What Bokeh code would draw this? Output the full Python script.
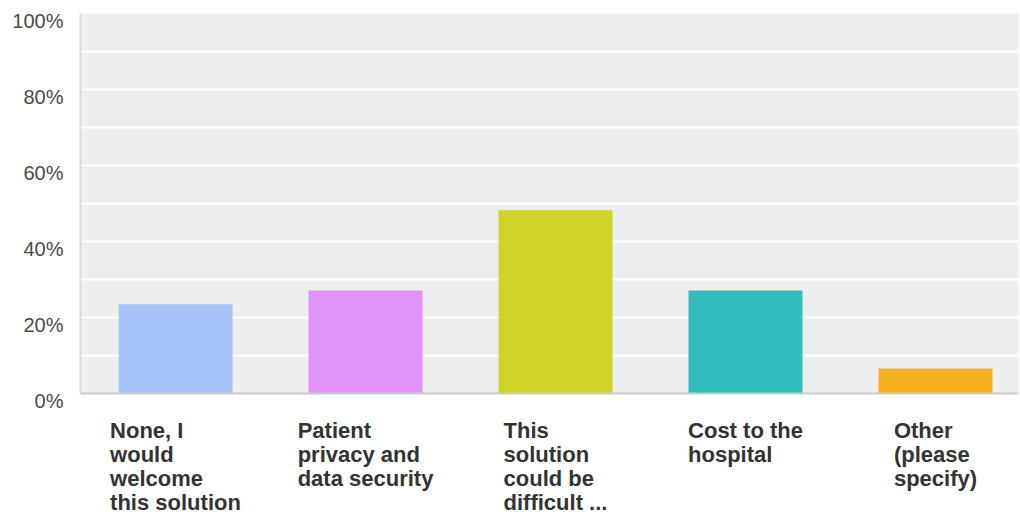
from bokeh.plotting import figure
from bokeh.models import Range1d, FixedTicker, ColumnDataSource
from bokeh.embed import file_html
from bokeh.resources import INLINE
from bokeh.core.properties import value

# ---- data ----
label_lines = [
    ["None, I", "would", "welcome", "this solution"],
    ["Patient", "privacy and", "data security"],
    ["This", "solution", "could be", "difficult ..."],
    ["Cost to the", "hospital"],
    ["Other", "(please", "specify)"],
]
percent = [23.5, 27.1, 48.2, 27.1, 6.6]
colors = ["#a6c4fa", "#e293fa", "#ced428", "#33bdbf", "#f6b01f"]
y_ticks = [0, 20, 40, 60, 80, 100]
y_tick_labels = ["0%", "20%", "40%", "60%", "80%", "100%"]
grid_ticks = [0, 10, 20, 30, 40, 50, 60, 70, 80, 90, 100]

# Arial/Liberation Sans Bold advance widths (per 1000 em)
BOLD_W = {
    'a': 556, 'b': 611, 'c': 556, 'd': 611, 'e': 556, 'f': 333, 'g': 611, 'h': 611,
    'i': 278, 'j': 278, 'k': 556, 'l': 278, 'm': 889, 'n': 611, 'o': 611, 'p': 611,
    'q': 611, 'r': 389, 's': 556, 't': 333, 'u': 611, 'v': 556, 'w': 778, 'x': 556,
    'y': 556, 'z': 500, ' ': 278, ',': 278, '.': 278, '(': 333, ')': 333,
    'C': 722, 'I': 278, 'N': 722, 'O': 778, 'P': 667, 'T': 611,
}
FONT_PX = 22


def text_width(s):
    return sum(BOLD_W.get(ch, 600) for ch in s) / 1000.0 * FONT_PX


idx = list(range(len(percent)))
label_text = ["\n".join(lines) for lines in label_lines]
label_xoff = [-max(text_width(l) for l in lines) / 2.0 for lines in label_lines]

frame_w = 938
cat_px = 190
x_start = -0.5
x_end = x_start + frame_w / cat_px

bar_src = ColumnDataSource(dict(x=idx, top=percent, color=colors))
lab_src = ColumnDataSource(dict(x=idx, y=[0] * len(idx), text=label_text, xoff=label_xoff))
ytk_src = ColumnDataSource(dict(x=[x_start] * len(y_ticks), y=y_ticks, text=y_tick_labels))

p = figure(width=1020, height=514,
           x_range=Range1d(x_start, x_end),
           y_range=Range1d(0, 100),
           output_backend="svg", toolbar_location=None,
           min_border_left=80, min_border_right=2,
           min_border_top=13, min_border_bottom=121)
p.background_fill_color = "#eeeeee"
p.border_fill_color = "white"
p.outline_line_color = None

p.xgrid.visible = False
p.ygrid.ticker = FixedTicker(ticks=grid_ticks)
p.ygrid.grid_line_color = "white"
p.ygrid.grid_line_width = 2

# axes only draw their lines; tick labels are drawn as text below
p.yaxis.ticker = FixedTicker(ticks=[])
p.yaxis.axis_line_color = "#dcdcdc"
p.yaxis.axis_line_width = 2
p.yaxis.major_tick_line_color = None
p.yaxis.minor_tick_line_color = None

p.xaxis.ticker = FixedTicker(ticks=[])
p.xaxis.axis_line_color = "#cccccc"
p.xaxis.axis_line_width = 2
p.xaxis.major_tick_line_color = None
p.xaxis.minor_tick_line_color = None

p.vbar(x="x", top="top", bottom=0, width=0.6, fill_color="color",
       line_color=None, source=bar_src)

# y tick labels (sit slightly below their gridlines as in the reference)
p.text(x="x", y="y", text="text", x_offset=-17, y_offset=7,
       text_align="right", text_baseline="middle",
       text_font=value("Liberation Sans"), text_font_size="20px",
       text_color="#4a4a4a", source=ytk_src, level="overlay")

# category labels
p.text(x="x", y="y", text="text", x_offset="xoff", y_offset=24,
       text_align="left", text_baseline="top",
       text_font=value("Liberation Sans"), text_font_style="bold",
       text_font_size=f"{FONT_PX}px", text_color="#333333",
       text_line_height=0.97, source=lab_src, level="overlay")

open("out.html", "w").write(file_html(p, INLINE))
